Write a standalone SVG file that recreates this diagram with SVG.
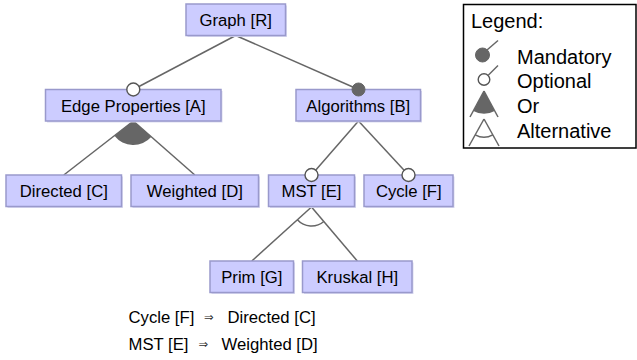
<svg xmlns="http://www.w3.org/2000/svg" width="637" height="360" viewBox="0 0 637 360">
<style>
.box{fill:#ccccff;stroke:#9999cc;stroke-width:1.5}
.shadow{fill:#dadaf0}
.lbl{font-family:"Liberation Sans",Arial,sans-serif;font-size:16.7px;fill:#000;text-anchor:middle}
.txt{font-family:"Liberation Sans",Arial,sans-serif;font-size:16.7px;fill:#000}
.leg{font-family:"Liberation Sans",Arial,sans-serif;font-size:20px;fill:#000}
.ln{stroke:#666;stroke-width:1.5;fill:none}
.opt{fill:#fff;stroke:#555;stroke-width:1.4}
.man{fill:#666;stroke:#666;stroke-width:1}
.orf{fill:#666;stroke:none}
.arr{font-family:"DejaVu Sans",sans-serif;font-size:11.5px;fill:#333}
</style>
<rect width="637" height="360" fill="#fff"/>
<g id="connectors">
<line class="ln" x1="235.7" y1="35.5" x2="133.3" y2="89.5"/>
<line class="ln" x1="235.7" y1="35.5" x2="358.5" y2="89.5"/>
<line class="ln" x1="133.3" y1="121" x2="63.8" y2="175"/>
<line class="ln" x1="133.3" y1="121" x2="194.8" y2="175"/>
<path class="orf" d="M133.3,121 L114.4,135.8 A24,24 0 0 0 151.4,136.8 Z"/>
<line class="ln" x1="358.5" y1="121" x2="311.5" y2="175"/>
<line class="ln" x1="358.5" y1="121" x2="408.5" y2="175"/>
<line class="ln" x1="311.5" y1="207" x2="251.8" y2="261"/>
<line class="ln" x1="311.5" y1="207" x2="357.3" y2="261"/>
<path class="ln" d="M297.4,219.8 A19,19 0 0 0 323.8,221.5"/>
</g>
<g id="R"><rect class="shadow" x="187.5" y="5.5" width="99.5" height="31.5"/><rect class="box" x="186" y="4" width="99.5" height="31.5"/><text class="lbl" x="235.7" y="26">Graph [R]</text></g>
<g id="A"><rect class="shadow" x="47" y="91" width="175.5" height="31.5"/><rect class="box" x="45.5" y="89.5" width="175.5" height="31.5"/><text class="lbl" x="133.3" y="111.7">Edge Properties [A]</text></g>
<g id="B"><rect class="shadow" x="297.5" y="91" width="124.5" height="31.5"/><rect class="box" x="296" y="89.5" width="124.5" height="31.5"/><text class="lbl" x="358.3" y="111.7">Algorithms [B]</text></g>
<g id="C"><rect class="shadow" x="7.5" y="176.5" width="115.5" height="31.5"/><rect class="box" x="6" y="175" width="115.5" height="31.5"/><text class="lbl" x="63.8" y="197.3">Directed [C]</text></g>
<g id="D"><rect class="shadow" x="132.5" y="176.5" width="127.5" height="31.5"/><rect class="box" x="131" y="175" width="127.5" height="31.5"/><text class="lbl" x="194.8" y="197.3">Weighted [D]</text></g>
<g id="E"><rect class="shadow" x="270" y="176.5" width="86" height="31.5"/><rect class="box" x="268.5" y="175" width="86" height="31.5"/><text class="lbl" x="311.5" y="197.3">MST [E]</text></g>
<g id="F"><rect class="shadow" x="365.5" y="176.5" width="89" height="31.5"/><rect class="box" x="364" y="175" width="89" height="31.5"/><text class="lbl" x="408.8" y="197.3">Cycle [F]</text></g>
<g id="G"><rect class="shadow" x="211.5" y="262.5" width="83.5" height="31.5"/><rect class="box" x="210" y="261" width="83.5" height="31.5"/><text class="lbl" x="251.8" y="283.3">Prim [G]</text></g>
<g id="H"><rect class="shadow" x="304" y="262.5" width="109.5" height="31.5"/><rect class="box" x="302.5" y="261" width="109.5" height="31.5"/><text class="lbl" x="357.3" y="283.3">Kruskal [H]</text></g>
<g id="decorations">
<circle class="opt" cx="133.3" cy="89.5" r="6.5"/>
<circle class="man" cx="358.5" cy="89.5" r="6.5"/>
<circle class="opt" cx="311.5" cy="175" r="6.5"/>
<circle class="opt" cx="408.5" cy="175" r="6.5"/>
</g>
<g id="constraints">
<text class="txt" x="128.5" y="322.7">Cycle [F]<tspan class="arr" x="204" y="321.2">⇒</tspan><tspan x="227.5" y="322.7">Directed [C]</tspan></text>
<text class="txt" x="128.5" y="349.5">MST [E]<tspan class="arr" x="198.5" y="348">⇒</tspan><tspan x="221.5" y="349.5">Weighted [D]</tspan></text>
</g>
<g id="legend">
<rect x="463.5" y="4.5" width="172.5" height="143.5" fill="#fff" stroke="#000" stroke-width="1.5"/>
<text class="leg" x="471" y="27.5">Legend:</text>
<circle class="man" cx="482.5" cy="55" r="7"/>
<line class="ln" x1="487" y1="50" x2="498" y2="40.5"/>
<text class="leg" x="517" y="64">Mandatory</text>
<circle class="opt" cx="484" cy="79.5" r="5.8"/>
<line class="ln" x1="488" y1="75.5" x2="498" y2="65.5"/>
<text class="leg" x="517" y="88">Optional</text>
<path class="orf" d="M484,91 L473.3,111 A22.7,22.7 0 0 0 494.7,111 Z"/>
<line class="ln" x1="484" y1="91" x2="470" y2="117"/>
<line class="ln" x1="484" y1="91" x2="498" y2="117"/>
<text class="leg" x="517" y="112.5">Or</text>
<line class="ln" x1="484" y1="119" x2="469" y2="146"/>
<line class="ln" x1="484" y1="119" x2="499" y2="146"/>
<path class="ln" d="M475.2,134.8 A18,18 0 0 0 492.8,134.8"/>
<text class="leg" x="517" y="137.5">Alternative</text>
</g>
</svg>
